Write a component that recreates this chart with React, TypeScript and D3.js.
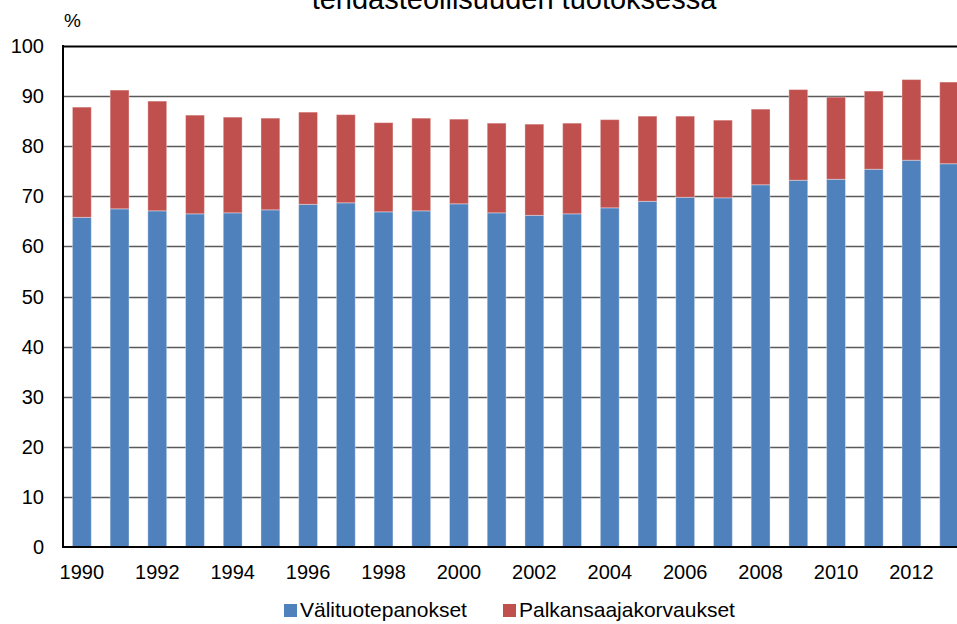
import * as d3 from "d3";
import { useEffect, useRef } from "react";

const years = [
  "1990", "1991", "1992", "1993", "1994", "1995", "1996", "1997",
  "1998", "1999", "2000", "2001", "2002", "2003", "2004", "2005",
  "2006", "2007", "2008", "2009", "2010", "2011", "2012", "2013",
];

// Välituotepanokset (blue, bottom segment)
const valituotepanokset = [
  65.8, 67.5, 67.1, 66.5, 66.7, 67.3, 68.4, 68.7, 66.9, 67.1, 68.5, 66.7,
  66.2, 66.5, 67.7, 69.0, 69.8, 69.7, 72.3, 73.2, 73.4, 75.4, 77.2, 76.5,
];

// Palkansaajakorvaukset (red, top segment)
const palkansaajakorvaukset = [
  22.0, 23.7, 21.9, 19.7, 19.1, 18.3, 18.4, 17.6, 17.8, 18.5, 16.9, 17.9,
  18.2, 18.1, 17.6, 17.0, 16.2, 15.5, 15.1, 18.1, 16.4, 15.6, 16.1, 16.3,
];

const yTicks = [0, 10, 20, 30, 40, 50, 60, 70, 80, 90, 100];
const xTickLabels = years.filter((_, i) => i % 2 === 0);

const series = [
  { name: "Välituotepanokset", color: "#4F81BD" },
  { name: "Palkansaajakorvaukset", color: "#C0504D" },
];

const WIDTH = 957;
const HEIGHT = 624;
const FONT = "'Liberation Sans', Arial, sans-serif";

export default function App() {
  const svgRef = useRef<SVGSVGElement | null>(null);

  useEffect(() => {
    if (!svgRef.current) return;
    const svg = d3.select(svgRef.current);
    svg.selectAll("*").remove();

    const plotLeft = 63;
    const plotRight = 968; // plot runs past the visible edge
    const plotTop = 46;
    const plotBottom = 547;

    const x = d3
      .scaleBand<string>()
      .domain(years)
      .range([plotLeft, plotRight])
      .paddingInner(0.5)
      .paddingOuter(0.25);

    const y = d3.scaleLinear().domain([0, 100]).range([plotBottom, plotTop]);

    // title (cut off at top)
    svg
      .append("text")
      .attr("x", 514)
      .attr("y", 9)
      .attr("text-anchor", "middle")
      .style("font-family", FONT)
      .style("font-size", "29px")
      .attr("fill", "#000")
      .text("tehdasteollisuuden tuotoksessa");

    svg
      .append("text")
      .attr("x", 64)
      .attr("y", 27)
      .style("font-family", FONT)
      .style("font-size", "19px")
      .text("%");

    // gridlines
    svg
      .append("g")
      .selectAll("line")
      .data(yTicks.filter((t) => t > 0))
      .join("line")
      .attr("x1", plotLeft)
      .attr("x2", WIDTH)
      .attr("y1", (d) => Math.round(y(d)) + 0.5)
      .attr("y2", (d) => Math.round(y(d)) + 0.5)
      .attr("stroke", (d) => (d === 100 ? "#000" : "#5a5a5a"))
      .attr("stroke-width", (d) => (d === 100 ? 2 : 1.3));

    // y tick labels
    svg
      .append("g")
      .selectAll("text")
      .data(yTicks)
      .join("text")
      .attr("x", 44)
      .attr("y", (d) => y(d))
      .attr("dy", "0.35em")
      .attr("text-anchor", "end")
      .style("font-family", FONT)
      .style("font-size", "20px")
      .text((d) => d);

    // stacked bars
    const stackData = years.map((yr, i) => ({
      year: yr,
      a: valituotepanokset[i],
      b: palkansaajakorvaukset[i],
    }));
    const stacked = d3.stack<any>().keys(["a", "b"])(stackData);

    svg
      .append("g")
      .selectAll("g")
      .data(stacked)
      .join("g")
      .attr("fill", (_, i) => series[i].color)
      .selectAll("rect")
      .data((d) => d)
      .join("rect")
      .attr("x", (d) => x(d.data.year)!)
      .attr("width", x.bandwidth())
      .attr("y", (d) => y(d[1]))
      .attr("height", (d) => y(d[0]) - y(d[1]))
      .attr("stroke", "rgba(255,255,255,0.35)")
      .attr("stroke-width", 1);

    // axes
    svg
      .append("line")
      .attr("x1", plotLeft)
      .attr("x2", plotLeft)
      .attr("y1", plotTop - 1)
      .attr("y2", plotBottom + 1)
      .attr("stroke", "#000")
      .attr("stroke-width", 2);
    svg
      .append("line")
      .attr("x1", plotLeft - 1)
      .attr("x2", WIDTH)
      .attr("y1", plotBottom)
      .attr("y2", plotBottom)
      .attr("stroke", "#000")
      .attr("stroke-width", 2);

    // x tick labels
    svg
      .append("g")
      .selectAll("text")
      .data(xTickLabels)
      .join("text")
      .attr("x", (d) => x(d)! + x.bandwidth() / 2)
      .attr("y", 579)
      .attr("text-anchor", "middle")
      .style("font-family", FONT)
      .style("font-size", "20px")
      .text((d) => d);

    // legend
    const legendX = [284, 503];
    const legend = svg
      .append("g")
      .selectAll("g")
      .data(series)
      .join("g")
      .attr("transform", (_, i) => `translate(${legendX[i]},604)`);
    legend
      .append("rect")
      .attr("width", 13)
      .attr("height", 13)
      .attr("fill", (d) => d.color);
    legend
      .append("text")
      .attr("x", 16)
      .attr("y", 13)
      .style("font-family", FONT)
      .style("font-size", "21px")
      .text((d) => d.name);
  }, []);

  return (
    <svg
      ref={svgRef}
      width={WIDTH}
      height={HEIGHT}
      style={{ position: "absolute", left: 0, top: 0, background: "#fff" }}
    />
  );
}
